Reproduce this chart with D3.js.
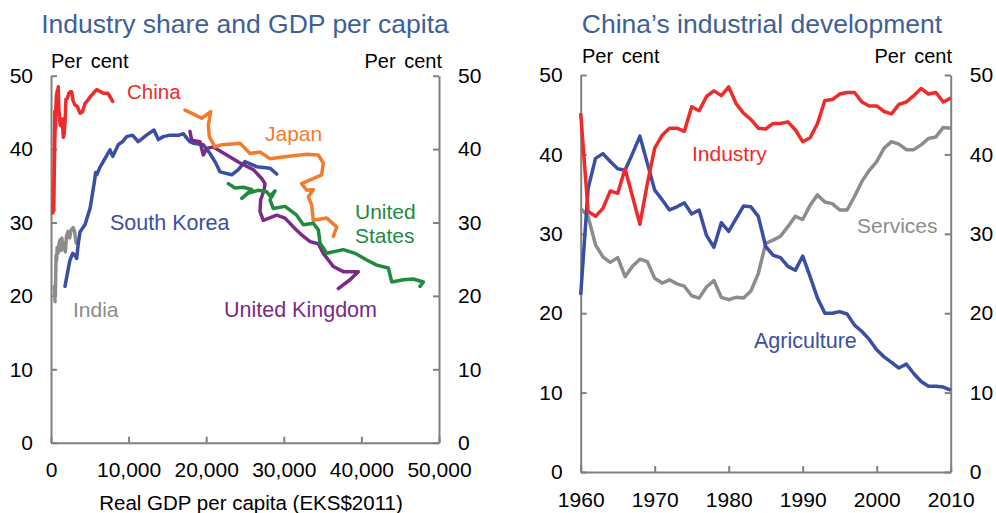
<!DOCTYPE html>
<html>
<head>
<meta charset="utf-8">
<script src="https://cdn.jsdelivr.net/npm/d3@7"></script>
<style>
  html, body { margin: 0; padding: 0; background: #ffffff; }
  svg { display: block; font-family: "Liberation Sans", Arial, sans-serif; }
</style>
</head>
<body>
<svg id="chart" width="996" height="513"></svg>
<script>
// ---------------- DATA ----------------
// Left panel: [real GDP per capita (EKS$2011), industry share (%)]
const chinaPts = [[500,45.2],[330,32.8],[240,31.3],[300,33.2],[340,35.4],[380,35.1],[420,38.2],[390,34.7],[360,31.6],[420,36.8],[480,40.8],[520,42.4],[550,43.3],[580,43.3],[600,42.9],[640,46.0],[620,45.5],[700,47.3],[820,48.0],[880,47.4],[940,48.5],[980,46.4],[1030,45.2],[1100,44.4],[1180,43.3],[1250,43.2],[1320,43.9],[1400,43.9],[1470,44.1],[1500,43.1],[1590,41.6],[1700,42.1],[1820,43.9],[1930,46.8],[2100,46.9],[2300,47.6],[2500,47.8],[2660,47.8],[2850,46.6],[3090,46.0],[3400,45.8],[3740,44.9],[4050,45.1],[4380,46.2],[4700,46.6],[5030,47.1],[5450,47.6],[5890,48.1],[6740,47.6],[7350,47.6],[7950,46.5]];
const indiaPts = [[520,19.2],[470,20.5],[430,21.3],[560,20.0],[600,22.5],[650,25.5],[720,24.8],[800,26.6],[900,25.8],[1000,26.8],[1150,27.6],[1300,26.2],[1400,27.9],[1550,26.4],[1700,27.2],[1850,26.0],[2000,28.2],[2200,28.8],[2400,27.9],[2600,29.0],[2850,29.3],[3050,28.7],[3250,27.2]];
const koreaPts = [[1800,21.3],[2100,23.0],[2450,24.9],[2800,25.8],[3100,25.5],[3310,25.1],[3500,27.0],[3740,28.7],[4050,29.2],[4380,29.7],[4700,30.8],[5030,31.9],[5250,33.3],[5460,34.7],[5600,35.6],[5750,36.8],[5890,36.5],[6300,37.5],[6900,38.6],[7600,39.9],[7950,39.0],[8670,40.6],[9200,41.0],[9750,41.7],[10500,41.9],[11250,41.0],[12300,41.9],[13270,42.6],[13830,41.3],[14470,41.7],[15340,41.9],[16500,41.9],[17050,42.1],[17500,41.5],[17910,41.0],[18340,40.8],[19630,40.6],[20490,39.4],[21130,38.3],[21780,36.9],[23290,36.5],[24140,37.2],[25000,38.3],[26510,37.6],[28220,37.4],[29080,36.6]];
const japanPts = [[17270,45.3],[18300,44.8],[19420,44.2],[20580,45.1],[20280,43.3],[20400,41.7],[21130,40.3],[22000,40.6],[23290,40.7],[24360,40.8],[25650,39.4],[26930,39.6],[28220,38.7],[30370,39.0],[31230,39.1],[32950,39.3],[34450,39.2],[35090,38.1],[34880,36.5],[32300,35.3],[32950,34.4],[33800,34.5],[33160,33.5],[33590,32.4],[33800,30.3],[35530,30.6],[36820,29.4],[36380,28.1]];
const ukPts = [[17910,42.4],[18130,41.2],[19200,41.0],[19630,39.2],[20060,40.1],[20920,40.3],[22640,39.2],[24360,38.1],[26070,37.2],[27150,36.0],[27580,35.3],[27450,34.4],[27020,33.1],[26930,31.5],[27360,30.3],[29080,31.0],[30160,30.6],[31230,29.4],[32300,28.3],[33380,27.4],[34450,27.1],[35090,25.8],[36380,24.0],[37670,23.3],[39600,23.3],[38530,22.2],[37020,21.0]];
const usPts = [[22850,35.3],[23710,34.7],[24780,34.8],[25860,34.5],[24580,33.3],[25430,34.0],[26720,34.4],[27800,34.2],[28220,33.6],[28870,34.3],[28220,33.1],[28650,31.9],[30160,32.2],[31660,31.0],[32520,29.7],[33800,29.9],[34450,29.0],[34670,27.2],[35530,25.8],[37670,26.3],[39180,25.8],[40690,24.9],[41980,24.2],[43470,23.8],[43910,21.9],[45400,22.2],[46690,22.3],[47980,21.9],[47550,21.3]];

const leftYTicks = [0,10,20,30,40,50];
const leftXTicks = [0,10000,20000,30000,40000,50000];

// Right panel: China sector shares of GDP (%)
const years = [1960,1961,1962,1963,1964,1965,1966,1967,1968,1969,1970,1971,1972,1973,1974,1975,1976,1977,1978,1979,1980,1981,1982,1983,1984,1985,1986,1987,1988,1989,1990,1991,1992,1993,1994,1995,1996,1997,1998,1999,2000,2001,2002,2003,2004,2005,2006,2007,2008,2009,2010];
const industry = [45.2,32.8,32.2,33.2,35.4,35.1,38.2,34.7,31.2,36.3,40.8,42.4,43.3,43.3,42.9,46.0,45.5,47.3,48.0,47.4,48.5,46.4,45.2,44.4,43.3,43.2,43.9,43.9,44.1,43.1,41.6,42.1,43.9,46.8,46.9,47.6,47.8,47.8,46.6,46.1,46.1,45.4,45.1,46.3,46.6,47.4,48.3,47.6,47.8,46.6,47.1];
const agriculture = [22.3,35.7,39.5,40.1,39.1,38.2,38.0,40.1,42.3,38.9,35.5,34.3,33.0,33.4,33.9,32.5,33.0,29.8,28.3,31.4,30.3,31.9,33.5,33.4,32.2,28.4,27.3,27.0,25.9,25.4,27.2,24.6,21.9,20.0,20.0,20.2,19.9,18.5,17.7,16.7,15.4,14.5,13.8,13.1,13.6,12.4,11.4,10.8,10.8,10.7,10.3];
const services = [33.2,32.2,28.6,27.1,26.4,27.0,24.6,25.9,26.8,26.5,24.4,23.8,24.2,23.7,23.4,22.2,21.9,23.3,24.1,22.0,21.7,22.0,21.9,22.8,25.0,28.8,29.2,29.7,30.9,32.2,31.8,33.6,34.9,34.0,33.8,33.0,33.0,34.7,36.6,38.0,39.1,40.8,41.6,41.3,40.6,40.6,41.2,42.0,42.2,43.4,43.3];

const rightYTicks = [0,10,20,30,40,50];
const rightXTicks = [1960,1970,1980,1990,2000,2010];

// ---------------- DRAWING ----------------
const svg = d3.select("#chart");
const AXIS = "#808080";
const TITLE = "#3d6196";
const FONT = 21;

function styleAxis(g) {
  g.attr("font-family", "Liberation Sans, Arial, sans-serif").attr("font-size", FONT);
  g.selectAll("path.domain").attr("stroke", AXIS).attr("stroke-width", 2);
  g.selectAll(".tick line").attr("stroke", AXIS).attr("stroke-width", 2);
  g.selectAll(".tick text").attr("fill", "#000");
}

// ---- Left panel ----
const xL = d3.scaleLinear().domain([0, 50000]).range([51, 439]);
const yL = d3.scaleLinear().domain([0, 50]).range([442.7, 75.7]);

svg.append("g").attr("transform", "translate(51,0)")
  .call(d3.axisLeft(yL).tickValues(leftYTicks).tickSizeInner(-6).tickSizeOuter(0).tickPadding(18))
  .call(styleAxis);
svg.append("g").attr("transform", "translate(439,0)")
  .call(d3.axisRight(yL).tickValues(leftYTicks).tickSizeInner(-6).tickSizeOuter(0).tickPadding(19))
  .call(styleAxis);
svg.append("g").attr("transform", "translate(0,442.7)")
  .call(d3.axisBottom(xL).tickValues(leftXTicks).tickSizeInner(-6).tickSizeOuter(0).tickPadding(19)
    .tickFormat(d3.format(",")))
  .call(styleAxis);

const lineL = d3.line().x(d => xL(d[0])).y(d => yL(d[1]));
const leftSeries = [
  {pts: indiaPts, color: "#8c8c8c"},
  {pts: chinaPts, color: "#ee2a2a"},
  {pts: koreaPts, color: "#3a4fa3"},
  {pts: ukPts, color: "#7b2a88"},
  {pts: japanPts, color: "#f47b2c"},
  {pts: usPts, color: "#228a3c"}
];
svg.append("g").selectAll("path").data(leftSeries).join("path")
  .attr("d", d => lineL(d.pts))
  .attr("fill", "none").attr("stroke", d => d.color)
  .attr("stroke-width", 3.5).attr("stroke-linejoin", "round").attr("stroke-linecap", "round");

// ---- Right panel ----
const xR = d3.scaleLinear().domain([1960, 2010]).range([580.7, 950.7]);
const yR = d3.scaleLinear().domain([0, 50]).range([472, 75]);

svg.append("g").attr("transform", "translate(580.7,0)")
  .call(d3.axisLeft(yR).tickValues(rightYTicks).tickSizeInner(-6).tickSizeOuter(0).tickPadding(18))
  .call(styleAxis);
svg.append("g").attr("transform", "translate(950.7,0)")
  .call(d3.axisRight(yR).tickValues(rightYTicks).tickSizeInner(-6).tickSizeOuter(0).tickPadding(19))
  .call(styleAxis);
svg.append("g").attr("transform", "translate(0,472)")
  .call(d3.axisBottom(xR).tickValues(rightXTicks).tickSizeInner(-6).tickSizeOuter(0).tickPadding(20)
    .tickFormat(d3.format("d")))
  .call(styleAxis);

const lineR = d3.line().x((d, i) => xR(years[i])).y(d => yR(d));
const rightSeries = [
  {vals: services, color: "#8c8c8c"},
  {vals: agriculture, color: "#3a4fa3"},
  {vals: industry, color: "#ee2a2a"}
];
svg.append("g").selectAll("path").data(rightSeries).join("path")
  .attr("d", d => lineR(d.vals))
  .attr("fill", "none").attr("stroke", d => d.color)
  .attr("stroke-width", 3.5).attr("stroke-linejoin", "round").attr("stroke-linecap", "butt");

// ---- Texts ----
function txt(x, y, s, opts = {}) {
  svg.append("text").attr("x", x).attr("y", y)
    .attr("font-size", opts.size || FONT)
    .attr("fill", opts.fill || "#000")
    .attr("text-anchor", opts.anchor || "start")
    .attr("word-spacing", opts.ws || 0)
    .text(s);
}
// Titles
txt(245, 33, "Industry share and GDP per capita", {size: 26.5, fill: TITLE, anchor: "middle"});
txt(762, 33, "China\u2019s industrial development", {size: 26.5, fill: TITLE, anchor: "middle"});
// Unit labels
txt(51, 68, "Per cent", {size: 20, ws: 3});
txt(442, 68, "Per cent", {size: 20, anchor: "end", ws: 3});
txt(582, 63, "Per cent", {size: 20, ws: 3});
txt(952, 63, "Per cent", {size: 20, anchor: "end", ws: 3});
// X-axis title
txt(251, 510, "Real GDP per capita (EKS$2011)", {size: 20.5, anchor: "middle"});
// Series labels (left)
txt(127, 99, "China", {size: 20.5, fill: "#ee2a2a"});
txt(265, 141, "Japan", {size: 21, fill: "#f47b2c"});
txt(110, 230, "South Korea", {size: 21.5, fill: "#3a4fa3"});
txt(355, 219, "United", {size: 21, fill: "#228a3c"});
txt(355, 243, "States", {size: 21, fill: "#228a3c"});
txt(73, 317, "India", {size: 21, fill: "#8c8c8c"});
txt(224, 317, "United Kingdom", {size: 21.5, fill: "#7b2a88"});
// Series labels (right)
txt(692, 161, "Industry", {size: 21, fill: "#ee2a2a"});
txt(857, 233, "Services", {size: 21, fill: "#8c8c8c"});
txt(754, 348, "Agriculture", {size: 21.5, fill: "#3a4fa3"});
</script>
</body>
</html>
